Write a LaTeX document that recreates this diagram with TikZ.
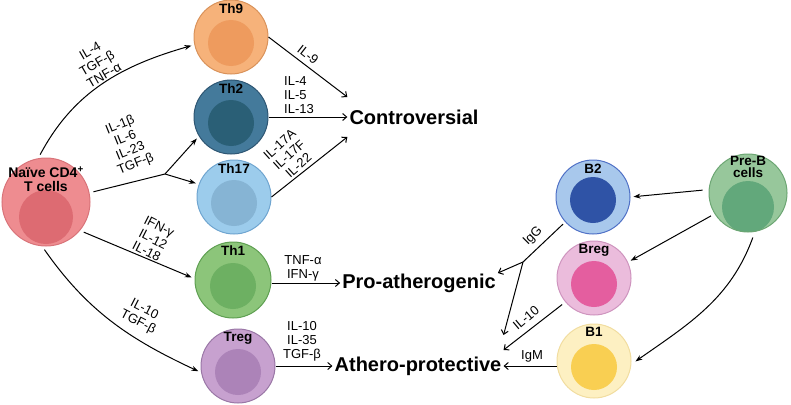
\documentclass[tikz,border=0pt]{standalone}
\usepackage{fontspec}
\setmainfont{Liberation Sans}
\usetikzlibrary{arrows.meta, positioning, calc}

\definecolor{NaiveOut}{HTML}{EE8C90}
\definecolor{NaiveIn}{HTML}{DD6B72}
\definecolor{NaiveLine}{HTML}{D9747A}
\definecolor{NineOut}{HTML}{F6B27A}
\definecolor{NineIn}{HTML}{EE9B5E}
\definecolor{NineLine}{HTML}{D9925A}
\definecolor{TwoOut}{HTML}{447A9B}
\definecolor{TwoIn}{HTML}{2A5F76}
\definecolor{TwoLine}{HTML}{2E5673}
\definecolor{SevOut}{HTML}{9CCCEC}
\definecolor{SevIn}{HTML}{86B4D4}
\definecolor{SevLine}{HTML}{6FA5D0}
\definecolor{OneOut}{HTML}{8CC57A}
\definecolor{OneIn}{HTML}{6DB062}
\definecolor{OneLine}{HTML}{5FA052}
\definecolor{RegOut}{HTML}{C7A1CF}
\definecolor{RegIn}{HTML}{AC83B8}
\definecolor{RegLine}{HTML}{9A77A6}
\definecolor{BtwoOut}{HTML}{A8C8EC}
\definecolor{BtwoIn}{HTML}{2F53A6}
\definecolor{BtwoLine}{HTML}{5071C6}
\definecolor{BregOut}{HTML}{EBBCDC}
\definecolor{BregIn}{HTML}{E45E9F}
\definecolor{BregLine}{HTML}{CE94BE}
\definecolor{BoneOut}{HTML}{FDF0C2}
\definecolor{BoneIn}{HTML}{F9CF52}
\definecolor{BoneLine}{HTML}{F1DDA0}
\definecolor{PreOut}{HTML}{97C79B}
\definecolor{PreIn}{HTML}{62A87B}
\definecolor{PreLine}{HTML}{6CA673}

\tikzset{
  cell/.style n args={3}{circle, minimum size=74pt, inner sep=0pt,
    fill=#1, draw=#3, line width=1pt,
    path picture={\fill[#2] ([yshift=-6pt]path picture bounding box.center) circle (23pt);}},
  celltext/.style={font=\fontsize{13.5}{14}\selectfont\bfseries, align=center, inner sep=1pt},
  cyto/.style={font=\fontsize{13}{14}\selectfont, align=center, inner sep=1pt},
  outcome/.style={font=\fontsize{20}{24}\selectfont\bfseries, inner sep=2pt},
  cellarrow/.style={-{Stealth[length=7pt, width=5pt]}, line width=1pt,
    shorten <=4pt, shorten >=3pt},
  outarrow/.style={-{Straight Barb[length=4pt, width=7pt]}, line width=1pt}
}

\begin{document}
\begin{tikzpicture}[x=1pt, y=-1pt]
      \useasboundingbox (0,0) rectangle (791,404);

      % T cell side
      \node[cell={NaiveOut}{NaiveIn}{NaiveLine}, minimum size=88pt,
            path picture={\fill[NaiveIn] ([yshift=-15pt]path picture bounding box.center) circle (27pt);},
            label={[celltext, font=\fontsize{14}{14}\selectfont\bfseries, anchor=north, yshift=-8pt]north:Naïve CD4\textsuperscript{+}\\T cells}]
            (naive) at (46,202) {};
      \node[cell={NineOut}{NineIn}{NineLine}, label={[celltext, anchor=north, yshift=-3pt]north:Th9}] (th9) at (231,37) {};
      \node[cell={TwoOut}{TwoIn}{TwoLine}, label={[celltext, anchor=north, yshift=-3pt]north:Th2}] (th2) at (231,117) {};
      \node[cell={SevOut}{SevIn}{SevLine}, label={[celltext, anchor=north, yshift=-3pt]north:Th17}] (th17) at (234,197) {};
      \node[cell={OneOut}{OneIn}{OneLine}, minimum size=76pt, label={[celltext, anchor=north, yshift=-3pt]north:Th1}] (th1) at (233,280) {};
      \node[cell={RegOut}{RegIn}{RegLine}, label={[celltext, anchor=north, yshift=-3pt]north:Treg}] (treg) at (238,366) {};

      % outcomes
      \node[outcome] (contro) at (414,117) {Controversial};
      \node[outcome] (proath) at (419,283) {Pro-atherogenic};
      \node[outcome] (athprot) at (418,366) {Athero-protective};

      % B cell side
      \node[cell={BtwoOut}{BtwoIn}{BtwoLine}, path picture={\fill[BtwoIn] ([yshift=-3pt]path picture bounding box.center) circle (23pt);},
            label={[celltext, anchor=north, yshift=-3pt]north:B2}] (b2) at (593,197) {};
      \node[cell={BregOut}{BregIn}{BregLine}, label={[celltext, anchor=north, yshift=-3pt]north:Breg}] (breg) at (594,278) {};
      \node[cell={BoneOut}{BoneIn}{BoneLine}, label={[celltext, anchor=north, yshift=-3pt]north:B1}] (b1) at (594,361) {};
      \node[cell={PreOut}{PreIn}{PreLine}, minimum size=78pt,
            path picture={\fill[PreIn] ([yshift=-14pt]path picture bounding box.center) circle (26pt);},
            label={[celltext, font=\fontsize{13.5}{12}\selectfont\bfseries, anchor=north, yshift=-2pt]north:Pre-B\\cells}] (preb) at (748,193) {};

      % naive to T helper arrows
      \coordinate (split) at (165,174);
      \draw[cellarrow] (naive.100) to[out=62, in=196] (th9.192);
      \draw[line width=1pt, shorten <=4pt] (naive.12) -- (split);
      \draw[cellarrow, shorten <=0pt] (split) -- (th2.211);
      \draw[cellarrow, shorten <=0pt] (split) -- (th17.160);
      \draw[cellarrow] (naive.-40) -- (th1.178);
      \draw[cellarrow] (naive.-95) to[out=-55, in=155] (treg.190);

      \node[cyto, rotate=30] (lnine) at (97,63) {IL-4\\TGF-β\\TNF-α};
      \node[cyto, rotate=22] (lsplit) at (128,145) {IL-1β\\IL-6\\IL-23\\TGF-β};
      \node[cyto, rotate=-27] (lone) at (153,239) {IFN-γ\\IL-12\\IL-18};
      \node[cyto, rotate=-27] (lreg) at (141,316) {IL-10\\TGF-β};

      % T helper to outcome arrows
      \draw[outarrow] (th9.east) -- ([yshift=20pt]contro.west);
      \draw[outarrow] (th2.east) -- (contro.west);
      \draw[outarrow] (th17.east) -- ([yshift=-20pt]contro.west);
      \draw[outarrow] (th1.east |- proath.west) -- (proath.west);
      \draw[outarrow] (treg.east) -- (athprot.west);

      \node[cyto, rotate=-38] (lninecon) at (308,55) {IL-9};
      \node[cyto, align=left] (ltwocon) at (299,95) {IL-4\\IL-5\\IL-13};
      \node[cyto, rotate=42] (lsevcon) at (289,155) {IL-17A\\IL-17F\\IL-22};
      \node[cyto] (lonecon) at (303,268) {TNF-α\\IFN-γ};
      \node[cyto] (lregcon) at (302,341) {IL-10\\IL-35\\TGF-β};

      % B cell arrows
      \draw[cellarrow, shorten <=6pt] (preb.175) -- (b2.east);
      \draw[cellarrow] (preb.212) -- (breg.25);
      \draw[cellarrow, shorten <=6pt, shorten >=5pt] (preb.-80) to[out=-110, in=35] (b1.-5);

      \coordinate (bsplit) at (523,262);
      \draw[line width=1pt, shorten <=3pt] (b2.222) -- (bsplit);
      \draw[outarrow] (bsplit) -- ([yshift=10pt]proath.east);
      \draw[outarrow] (bsplit) -- ([yshift=31pt]athprot.east);
      \draw[outarrow, shorten <=4pt] (breg.220) -- ([yshift=16pt]athprot.east);
      \draw[outarrow] (b1.west |- athprot.east) -- (athprot.east);

      \node[cyto, rotate=45] (ligg) at (533,236) {IgG};
      \node[cyto, rotate=40] (lbregcon) at (526,318) {IL-10};
      \node[cyto] (ligm) at (532,356) {IgM};

\end{tikzpicture}
\end{document}
